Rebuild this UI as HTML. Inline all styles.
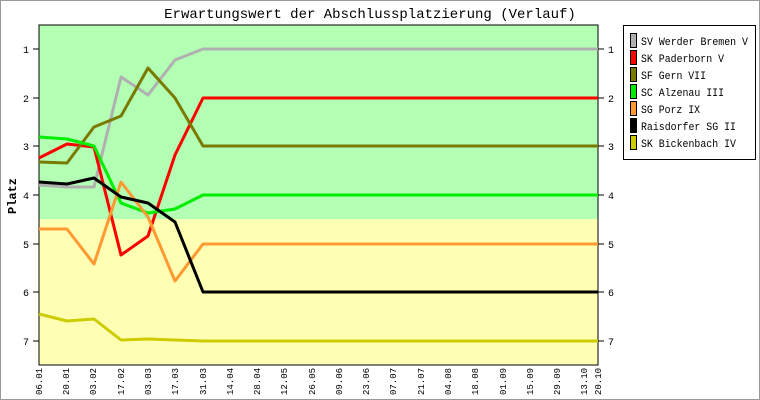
<!DOCTYPE html>
<html><head><style>body{margin:0;background:#fff}svg{display:block}</style></head><body>
<svg width="760" height="400" xmlns="http://www.w3.org/2000/svg" font-family="Liberation Mono, monospace">
<rect x="0.5" y="0.5" width="759" height="399" fill="#fff" stroke="#999"/>
<text x="370" y="18" font-size="14" text-anchor="middle">Erwartungswert der Abschlussplatzierung (Verlauf)</text>
<rect x="39" y="25" width="559" height="194" fill="#b3ffb3"/>
<rect x="39" y="219" width="559" height="146" fill="#ffffb3"/>
<g stroke="#000" fill="none">
<rect x="39" y="25" width="559" height="340"/>
<path d="M33 49h6M33 98h6M33 146h6M33 195h6M33 244h6M33 292h6M33 341h6M598 49h6M598 98h6M598 146h6M598 195h6M598 244h6M598 292h6M598 341h6"/>
</g>
<g font-size="10" text-anchor="middle">
<text x="26" y="53">1</text><text x="26" y="102">2</text><text x="26" y="150">3</text><text x="26" y="199">4</text><text x="26" y="248">5</text><text x="26" y="296">6</text><text x="26" y="345">7</text>
<text x="611" y="53">1</text><text x="611" y="102">2</text><text x="611" y="150">3</text><text x="611" y="199">4</text><text x="611" y="248">5</text><text x="611" y="296">6</text><text x="611" y="345">7</text>
</g>
<text transform="translate(16,196) rotate(-90)" font-size="12" font-weight="bold" text-anchor="middle">Platz</text>
<g fill="none" stroke-width="3" stroke-linejoin="round">
<polyline stroke="#b0b0b0" points="39,185 67,187 94,187 121,77 148,95 175,60 203,49 598,49"/>
<polyline stroke="#ff0000" points="39,158 67,144 94,147 121,255 148,236 175,155 203,98 598,98"/>
<polyline stroke="#7a7a00" points="39,162 67,163 94,127 121,116 148,68 175,98 203,146 598,146"/>
<polyline stroke="#00ee00" points="39,137 67,139 94,146 121,203 148,213 175,209 203,195 598,195"/>
<polyline stroke="#ff9933" points="39,229 67,229 94,264 121,182 148,217 175,281 203,244 598,244"/>
<polyline stroke="#000000" points="39,182 67,184 94,178 121,197 148,203 175,222 203,292 598,292"/>
<polyline stroke="#cccc00" points="39,314 67,321 94,319 121,340 148,339 175,340 203,341 598,341"/>
</g>
<rect x="623.5" y="25.5" width="132" height="134" fill="#fff" stroke="#000"/>
<g stroke="#000">
<rect x="630.5" y="33.5" width="6" height="14" fill="#b0b0b0"/>
<rect x="630.5" y="50.5" width="6" height="14" fill="#ff0000"/>
<rect x="630.5" y="67.5" width="6" height="14" fill="#7a7a00"/>
<rect x="630.5" y="84.5" width="6" height="14" fill="#00ee00"/>
<rect x="630.5" y="101.5" width="6" height="14" fill="#ff9933"/>
<rect x="630.5" y="118.5" width="6" height="14" fill="#000"/>
<rect x="630.5" y="135.5" width="6" height="14" fill="#cccc00"/>
</g>
<g font-size="11">
<text x="641" y="45" textLength="107" lengthAdjust="spacingAndGlyphs">SV Werder Bremen V</text>
<text x="641" y="62" textLength="83" lengthAdjust="spacingAndGlyphs">SK Paderborn V</text>
<text x="641" y="79" textLength="65" lengthAdjust="spacingAndGlyphs">SF Gern VII</text>
<text x="641" y="96" textLength="83" lengthAdjust="spacingAndGlyphs">SC Alzenau III</text>
<text x="641" y="113" textLength="59" lengthAdjust="spacingAndGlyphs">SG Porz IX</text>
<text x="641" y="130" textLength="95" lengthAdjust="spacingAndGlyphs">Raisdorfer SG II</text>
<text x="641" y="147" textLength="95" lengthAdjust="spacingAndGlyphs">SK Bickenbach IV</text>
</g>
<g font-size="9">
<g transform="translate(42,395) rotate(-90)"><text>06.01</text></g>
<g transform="translate(69,395) rotate(-90)"><text>20.01</text></g>
<g transform="translate(96,395) rotate(-90)"><text>03.02</text></g>
<g transform="translate(124,395) rotate(-90)"><text>17.02</text></g>
<g transform="translate(151,395) rotate(-90)"><text>03.03</text></g>
<g transform="translate(178,395) rotate(-90)"><text>17.03</text></g>
<g transform="translate(206,395) rotate(-90)"><text>31.03</text></g>
<g transform="translate(233,395) rotate(-90)"><text>14.04</text></g>
<g transform="translate(260,395) rotate(-90)"><text>28.04</text></g>
<g transform="translate(287,395) rotate(-90)"><text>12.05</text></g>
<g transform="translate(315,395) rotate(-90)"><text>26.05</text></g>
<g transform="translate(342,395) rotate(-90)"><text>09.06</text></g>
<g transform="translate(369,395) rotate(-90)"><text>23.06</text></g>
<g transform="translate(396,395) rotate(-90)"><text>07.07</text></g>
<g transform="translate(424,395) rotate(-90)"><text>21.07</text></g>
<g transform="translate(451,395) rotate(-90)"><text>04.08</text></g>
<g transform="translate(478,395) rotate(-90)"><text>18.08</text></g>
<g transform="translate(506,395) rotate(-90)"><text>01.09</text></g>
<g transform="translate(533,395) rotate(-90)"><text>15.09</text></g>
<g transform="translate(560,395) rotate(-90)"><text>29.09</text></g>
<g transform="translate(587,395) rotate(-90)"><text>13.10</text></g>
<g transform="translate(601,395) rotate(-90)"><text>20.10</text></g>
</g>
</svg>
</body></html>
